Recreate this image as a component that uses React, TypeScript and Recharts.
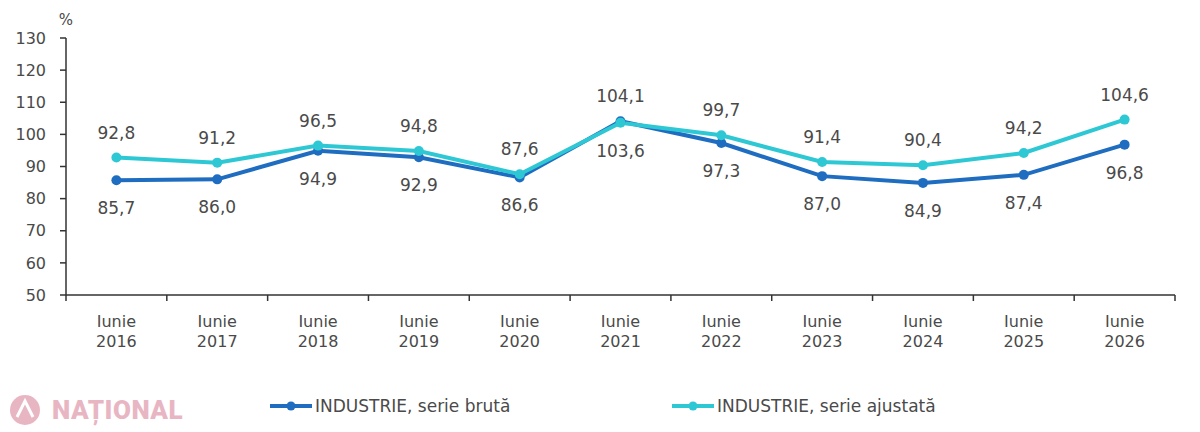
import React from "react";
import { LineChart, Line, XAxis, YAxis, LabelList } from "recharts";

const categories = ["2016", "2017", "2018", "2019", "2020", "2021", "2022", "2023", "2024", "2025", "2026"];
const brutValues = [85.7, 86.0, 94.9, 92.9, 86.6, 104.1, 97.3, 87.0, 84.9, 87.4, 96.8];
const ajustValues = [92.8, 91.2, 96.5, 94.8, 87.6, 103.6, 99.7, 91.4, 90.4, 94.2, 104.6];
const yTicks = [50, 60, 70, 80, 90, 100, 110, 120, 130];
const seriesNames = ["INDUSTRIE, serie brută", "INDUSTRIE, serie ajustată"];

const BRUT = "#1f6dc0";
const AJUST = "#2ec8d5";
const TEXT = "#4a4a4a";
const AXIS = "#333";
const FONT = "'DejaVu Sans', sans-serif";

const W = 1200;
const H = 432;
const M = { top: 38, right: 25, left: 4, bottom: 77 };
const Y_W = 62;
const PLOT_W = W - M.left - Y_W - M.right;
const HALF = PLOT_W / categories.length / 2;

const data = categories.map((year, i) => ({
  i,
  year,
  brut: brutValues[i],
  ajust: ajustValues[i],
}));

const fmt = (v: number) => v.toFixed(1).replace(".", ",");

function XTick(props: any) {
  const { x, y, payload } = props;
  const i = payload.value as number;
  const last = i === categories.length - 1;
  return (
    <g>
      <line x1={x - HALF} x2={x - HALF} y1={y - 8} y2={y - 2} stroke={AXIS} strokeWidth={1.5} />
      {last && <line x1={x + HALF} x2={x + HALF} y1={y - 8} y2={y - 2} stroke={AXIS} strokeWidth={1.5} />}
      <text x={x} y={y + 24} textAnchor="middle" fill={TEXT} fontSize={16} fontFamily={FONT}>
        Iunie
      </text>
      <text x={x} y={y + 44} textAnchor="middle" fill={TEXT} fontSize={16} fontFamily={FONT}>
        {categories[i]}
      </text>
    </g>
  );
}

function makeLabel(aboveDefault: boolean) {
  return function DataLabel(props: any) {
    const { x, y, value, index } = props;
    const above = index === 5 ? !aboveDefault : aboveDefault;
    return (
      <text
        x={x}
        y={above ? y - 19 : y + 34}
        textAnchor="middle"
        fill={TEXT}
        fontSize={17}
        fontFamily={FONT}
      >
        {fmt(value)}
      </text>
    );
  };
}

function LegendItem({ color, name, left }: { color: string; name: string; left: number }) {
  return (
    <div style={{ position: "absolute", left, top: 394, display: "flex", alignItems: "center" }}>
      <svg width={46} height={24}>
        <line x1={2} x2={44} y1={12} y2={12} stroke={color} strokeWidth={4} />
        <circle cx={23} cy={12} r={4.5} fill={color} />
      </svg>
      <span style={{ fontFamily: FONT, fontSize: 17, color: TEXT, marginLeft: 1 }}>{name}</span>
    </div>
  );
}

export default function App() {
  return (
    <div style={{ position: "absolute", left: 0, top: 0, width: W, height: H, background: "#fff" }}>
      <LineChart width={W} height={H} data={data} margin={M}>
        <XAxis
          dataKey="i"
          type="number"
          domain={[-0.5, categories.length - 0.5]}
          ticks={categories.map((_, i) => i)}
          tick={<XTick />}
          tickLine={false}
          axisLine={{ stroke: AXIS, strokeWidth: 1.5 }}
          height={60}
          interval={0}
        />
        <YAxis
          domain={[50, 130]}
          ticks={yTicks}
          width={Y_W}
          tick={{ fill: TEXT, fontSize: 16, fontFamily: FONT }}
          tickSize={6}
          tickMargin={14}
          tickLine={{ stroke: AXIS, strokeWidth: 1.5 }}
          axisLine={{ stroke: AXIS, strokeWidth: 1.5 }}
          allowDataOverflow
        />
        <Line
          dataKey="brut"
          stroke={BRUT}
          strokeWidth={4}
          dot={{ r: 5, fill: BRUT, stroke: BRUT, strokeWidth: 0 }}
          isAnimationActive={false}
        >
          <LabelList dataKey="brut" content={makeLabel(false)} />
        </Line>
        <Line
          dataKey="ajust"
          stroke={AJUST}
          strokeWidth={4}
          dot={{ r: 5, fill: AJUST, stroke: AJUST, strokeWidth: 0 }}
          isAnimationActive={false}
        >
          <LabelList dataKey="ajust" content={makeLabel(true)} />
        </Line>
        <text x={66} y={25} textAnchor="middle" fill={TEXT} fontSize={15} fontFamily={FONT}>
          %
        </text>
      </LineChart>
      <LegendItem color={BRUT} name={seriesNames[0]} left={268} />
      <LegendItem color={AJUST} name={seriesNames[1]} left={670} />
      <div style={{ position: "absolute", left: 8, top: 393, display: "flex", alignItems: "center", opacity: 0.55 }}>
        <svg width={34} height={34}>
          <circle cx={17} cy={17} r={15} fill="#d77b93" />
          <path d="M9 24 L17 8 L25 24" stroke="#fff" strokeWidth={3} fill="none" />
        </svg>
        <span style={{ fontFamily: "Roboto, sans-serif", fontWeight: 900, fontSize: 26, color: "#d77b93", marginLeft: 10, letterSpacing: 0.5 }}>
          NAȚIONAL
        </span>
      </div>
    </div>
  );
}
